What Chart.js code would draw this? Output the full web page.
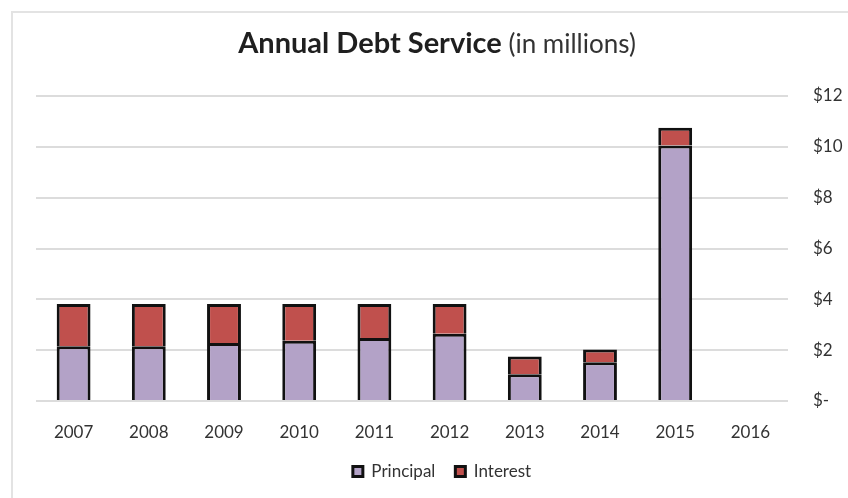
<!DOCTYPE html>
<html>
<head>
<meta charset="utf-8">
<title>Annual Debt Service</title>
<script src="https://cdn.jsdelivr.net/npm/chart.js@4.4.1/dist/chart.umd.min.js"></script>
<style>
  html, body { margin: 0; padding: 0; background: #fff; }
  #marco { position: relative; width: 848px; height: 498px; overflow: hidden; }
  #borde { position: absolute; left: 11px; top: 11px; width: 900px; height: 600px; border: 2px solid #e3e3e3; }
  #grafico { position: absolute; left: 0; top: 0; }
</style>
</head>
<body>
<div id="marco">
  <div id="borde"></div>
  <canvas id="grafico" width="848" height="498"></canvas>
</div>
<script>
// Datos del servicio de deuda anual (millones de dólares)
const anios = ['2007', '2008', '2009', '2010', '2011', '2012', '2013', '2014', '2015', '2016'];
const principal = [2.15, 2.15, 2.28, 2.37, 2.48, 2.65, 1.05, 1.52, 10.05, 0];
const intereses = [1.67, 1.67, 1.54, 1.45, 1.34, 1.17, 0.70, 0.51, 0.70, 0];
const etiquetasEje = ['$-', '$2', '$4', '$6', '$8', '$10', '$12'];

const fuente = 'Lato, "Open Sans", sans-serif';

// Título con dos estilos: parte en negrita y parte normal
const tituloMixto = {
    id: 'tituloMixto',
    afterDraw(chart) {
        const ctx = chart.ctx;
        const negrita = 'Annual Debt Service';
        const normal = ' (in millions)';
        ctx.save();
        ctx.fillStyle = '#1f1f1f';
        ctx.textBaseline = 'alphabetic';
        ctx.font = 'bold 29px ' + fuente;
        const w1 = ctx.measureText(negrita).width;
        ctx.font = '26px ' + fuente;
        const w2 = ctx.measureText(normal).width;
        const x0 = 437 - (w1 + w2) / 2;
        ctx.font = 'bold 29px ' + fuente;
        ctx.fillText(negrita, x0, 53);
        ctx.font = '26px ' + fuente;
        ctx.fillStyle = '#333';
        ctx.fillText(normal, x0 + w1, 53);
        ctx.restore();
    }
};

const ctx = document.getElementById('grafico').getContext('2d');
new Chart(ctx, {
    type: 'bar',
    data: {
        labels: anios,
        datasets: [
            {
                label: 'Principal',
                data: principal,
                backgroundColor: '#b3a2c7',
                borderColor: '#111',
                borderWidth: 3
            },
            {
                label: 'Interest',
                data: intereses,
                backgroundColor: '#c0504d',
                borderColor: '#111',
                borderWidth: 3
            }
        ]
    },
    options: {
        responsive: false,
        animation: false,
        categoryPercentage: 1,
        barPercentage: 0.45,
        layout: { padding: { left: 36, right: 0, top: 96, bottom: 8 } },
        plugins: {
            legend: {
                position: 'bottom',
                labels: {
                    boxWidth: 10,
                    boxHeight: 10,
                    padding: 20,
                    color: '#333',
                    font: { family: fuente, size: 17 }
                }
            },
            tooltip: { enabled: false }
        },
        scales: {
            x: {
                stacked: true,
                grid: { display: false, drawTicks: false },
                border: { display: false },
                ticks: {
                    padding: 21,
                    color: '#333',
                    font: { family: fuente, size: 17 }
                },
                afterFit: (escala) => { escala.height = 42; }
            },
            y: {
                stacked: true,
                position: 'right',
                min: 0,
                max: 12,
                grid: { color: '#dcdcdc', lineWidth: 2, drawTicks: false },
                border: { display: false },
                ticks: {
                    stepSize: 2,
                    padding: 25,
                    color: '#333',
                    font: { family: fuente, size: 17 },
                    callback: (valor, i) => etiquetasEje[i]
                },
                afterFit: (escala) => { escala.width = 60; }
            }
        }
    },
    plugins: [tituloMixto]
});
</script>
</body>
</html>
